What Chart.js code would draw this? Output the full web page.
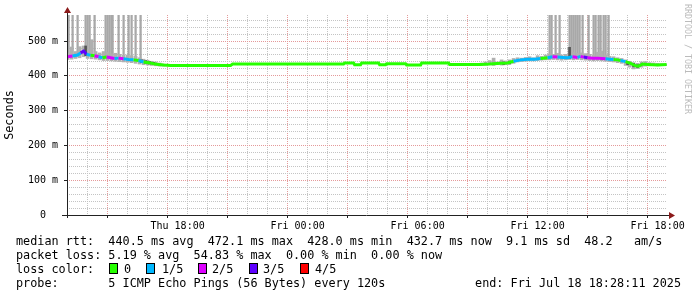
<!DOCTYPE html>
<html><head><meta charset="utf-8">
<script src="https://cdn.jsdelivr.net/npm/chart.js@4.4.1/dist/chart.umd.min.js"></script>
<style>
html,body{margin:0;padding:0;background:#fff;}
#wrap{position:relative;width:697px;height:297px;overflow:hidden;background:#fff;}
canvas{position:absolute;left:0;top:0;}
.t{position:absolute;font-family:"DejaVu Sans Mono",monospace;font-size:11.8px;line-height:14px;white-space:pre;color:#000;}
.box{position:absolute;width:9px;height:11px;border:1px solid #000;box-sizing:border-box;}
#wm{position:absolute;left:683px;top:4px;writing-mode:vertical-rl;font-family:"DejaVu Sans Mono",monospace;font-size:8.3px;line-height:10px;color:#bbb;white-space:pre;}
</style></head>
<body>
<div id="wrap">
<canvas id="c" width="697" height="297"></canvas>
<div id="wm">RRDTOOL / TOBI OETIKER</div>
<div class="t" style="left:16px;top:234px">median rtt:  440.5 ms avg  472.1 ms max  428.0 ms min  432.7 ms now  9.1 ms sd  48.2   am/s</div>
<div class="t" style="left:16px;top:248px">packet loss: 5.19 % avg  54.83 % max  0.00 % min  0.00 % now</div>
<div class="t" style="left:16px;top:262px">loss color:</div>
<div id="lossLegend"></div>
<div class="t" style="left:16px;top:276px">probe:       5 ICMP Echo Pings (56 Bytes) every 120s</div>
<div class="t" style="right:16px;top:276px">end: Fri Jul 18 18:28:11 2025</div>
</div>
<script>
// ---- data (x = hours since Thu 00:00) ----
const lossLabels = ['0', '1/5', '2/5', '3/5', '4/5'];
const lossColors = ['#26ff00', '#00b8ff', '#dd00ff', '#5e00ff', '#ff0000'];

const medT = [12.5,12.75,13.0,13.15,13.3,13.45,13.65,13.85,14.05,14.25,14.45,14.65,14.85,15.05,15.3,15.55,15.8,16.05,16.3,16.55,16.8,17.05,17.3,17.65,18.5,19.5,20.65,20.75,22,24,26.3,26.35,26.8,26.85,27.15,27.2,28.05,28.1,28.4,28.45,29.4,29.45,30.15,30.2,31.55,31.6,32.5,33.15,33.6,34.15,34.5,34.8,35.15,35.5,35.85,36.15,36.5,36.75,37.0,37.25,37.5,37.75,38.0,38.15,38.3,38.5,38.75,39.0,39.2,39.4,39.6,39.8,40.0,40.15,40.4,40.65,40.9,41.05,41.25,41.5,42.0,42.45];
const medV = [455,457,460,466,471,462,459,458,455,452,454,452,450,451,449,447,446,444,440,438,435,433,431,430,430,430,430,434,434,434,434,437,437,432,432,437,437,432,432,435,435,431,431,437,437,433,433,433,434,436,437,442,446,448,448,450,452,455,454,453,452,455,453,456,454,452,451,451,450,449,448,447,446,444,441,436,429,428,434,433,431,432.7];
const medLoss = [2,1,1,3,3,1,0,2,1,0,2,2,1,2,1,1,0,1, 0,0,0,0,0,0,0,0,0,0,0,0,0,0,0,0,0,0,0,0,0,0,0,0,0,0,0,0,0,0,0,0,0, 1,1,1,1,0,1,2,1,1,1,2,1,2,3,2,2,2,2,1,1,0,0,1, 0,0,0,0,0,0,0,0];

const smokeT  = [12.5,12.7,12.9,13.1,13.3,13.5,13.7,13.9,14.1,14.3,14.5,14.7,14.9,15.1,15.3,15.5,15.7,15.9,16.1,16.3,16.5,16.7,16.9,17.1,17.3,
                 33.0,33.2,33.4,33.6,33.8,34.0,34.2,34.4,34.6,34.8,35.0,35.2,35.4,35.6,35.8,36.0,36.2,36.4,36.6,36.8,37.0,37.2,37.4,37.6,37.8,38.0,38.2,38.4,38.6,38.8,39.0,39.2,39.4,39.6,39.8,40.0,40.2,40.4,40.6,40.8,41.0,41.2,41.4,41.6,41.8,42.0,42.2,42.4];
const smokeLo = [447,448,450,452,455,450,449,448,446,444,444,443,442,441,440,439,438,436,434,432,431,430,429,428,428,
                 430,431,431,432,430,432,431,432,434,436,440,441,442,443,443,444,445,446,446,447,446,445,446,447,446,447,446,445,444,443,444,443,442,441,440,438,436,430,425,420,421,425,428,429,430,429,430,430];
const smokeHi = [466,483,470,484,486,476,504,470,466,470,468,463,465,462,459,460,458,456,452,448,445,442,440,437,434,
                 436,437,440,444,451,440,446,443,446,450,452,451,453,455,452,458,456,460,463,462,465,460,462,482,468,465,466,464,462,460,468,471,460,456,455,452,450,446,442,438,436,440,441,438,437,436,435,434];

const darkT  = [13.4,16.2,16.4,16.6,16.8,34.3,34.6,37.6,40.5,40.8,41.0];
const darkLo = [458,438,436,434,433,432,434,450,432,426,424];
const darkHi = [486,446,444,441,439,440,442,482,440,436,432];

const spikeT  = [12.55,12.75,13.0,13.4,13.5,13.6,13.85,14.4,14.5,14.6,14.7,14.75,15.05,15.3,15.55,15.7,15.9,16.15,
                 36.6,36.7,36.9,37.1,37.6,37.7,37.8,37.9,38.0,38.1,38.25,38.55,38.8,38.9,39.05,39.15,39.3,39.4,39.55];
const spikeLo = [452,455,456,460,458,458,456,452,452,450,450,450,449,448,447,446,445,444,
                 450,450,452,452,452,452,452,452,452,452,452,450,450,450,449,449,448,448,447];
const spikeHi = spikeT.map(() => 580);

const xMin = 12.47, xMax = 42.47;
const xTickHours = []; for (let h = 13; h <= 42; h++) xTickHours.push(h);
const xLabels = {18: 'Thu 18:00', 24: 'Fri 00:00', 30: 'Fri 06:00', 36: 'Fri 12:00', 42: 'Fri 18:00'};
const yMax = 575;
const yTickVals = []; for (let v = 0; v <= 560; v += 20) yTickVals.push(v);

// ---- legend boxes ----
const boxX = [109, 146, 198, 249, 300], labX = [124, 162, 212, 263, 315];
const ll = document.getElementById('lossLegend');
lossLabels.forEach((l, i) => {
  const b = document.createElement('div'); b.className = 'box';
  b.style.left = boxX[i] + 'px'; b.style.top = '263px'; b.style.background = lossColors[i];
  ll.appendChild(b);
  const t = document.createElement('div'); t.className = 't';
  t.style.left = labX[i] + 'px'; t.style.top = '262px'; t.textContent = l;
  ll.appendChild(t);
});

const pts = (T, A, B) => T.map((t, i) => ({x: t, y: B ? [A[i], B[i]] : A[i]}));
const GRAY = '#c4c4c4', RED = '#e49a9a';
const mono = {family: '"DejaVu Sans Mono", monospace', size: 10};

const axesPlugin = {
  id: 'rrdAxes',
  afterDraw(chart) {
    const {ctx, chartArea: a} = chart;
    ctx.save();
    ctx.strokeStyle = '#222'; ctx.lineWidth = 1;
    ctx.beginPath();
    ctx.moveTo(a.left - 5, a.bottom + 0.5); ctx.lineTo(a.right + 4, a.bottom + 0.5);
    ctx.moveTo(a.left + 0.5, a.bottom + 3); ctx.lineTo(a.left + 0.5, a.top - 4);
    ctx.stroke();
    ctx.fillStyle = '#8b1a1a';
    ctx.beginPath();
    ctx.moveTo(a.right + 2, a.bottom - 3); ctx.lineTo(a.right + 8, a.bottom + 0.5); ctx.lineTo(a.right + 2, a.bottom + 4);
    ctx.closePath(); ctx.fill();
    ctx.beginPath();
    ctx.moveTo(a.left - 3, a.top - 2); ctx.lineTo(a.left + 0.5, a.top - 8); ctx.lineTo(a.left + 4, a.top - 2);
    ctx.closePath(); ctx.fill();
    ctx.restore();
  }
};

new Chart(document.getElementById('c'), {
  type: 'line',
  data: {
    datasets: [
      {type: 'line', data: pts(medT, medV), borderWidth: 3, pointRadius: 0, tension: 0, order: 0,
       borderColor: lossColors[0],
       segment: {borderColor: c => lossColors[medLoss[c.p0DataIndex]]}},
      {type: 'bar', data: pts(darkT, darkLo, darkHi), backgroundColor: '#555', barThickness: 2, grouped: false, order: 1, clip: 0},
      {type: 'bar', data: pts(smokeT, smokeLo, smokeHi), backgroundColor: '#b0b0b0', barThickness: 3, grouped: false, order: 2, clip: 0},
      {type: 'bar', data: pts(spikeT, spikeLo, spikeHi), backgroundColor: '#a8a8a8', barThickness: 1.6, grouped: false, order: 3, clip: 0}
    ]
  },
  options: {
    responsive: false, animation: false, devicePixelRatio: 1,
    layout: {padding: {top: 15, right: 30, left: 0, bottom: 0}},
    plugins: {legend: {display: false}, tooltip: {enabled: false}},
    events: [],
    scales: {
      x: {
        type: 'linear', min: xMin, max: xMax, offset: false,
        afterBuildTicks: s => { s.ticks = xTickHours.map(v => ({value: v})); },
        afterFit: s => { s.height = 82; },
        border: {display: false, dash: [1, 1]},
        grid: {
          color: c => (c.tick && c.tick.value % 3 === 0) ? RED : GRAY,
          tickColor: c => (c.tick && c.tick.value % 3 === 0) ? '#222' : 'rgba(0,0,0,0)',
          tickLength: 3, lineWidth: 1
        },
        ticks: {autoSkip: false, maxRotation: 0, minRotation: 0, padding: 2, color: '#000', font: mono,
          callback: v => xLabels[v] || ''}
      },
      y: {
        type: 'linear', min: 0, max: yMax,
        afterBuildTicks: s => { s.ticks = yTickVals.map(v => ({value: v})); },
        afterFit: s => { s.width = 67; },
        border: {display: false, dash: [1, 1]},
        grid: {
          color: c => (c.tick && c.tick.value % 100 === 0) ? RED : GRAY,
          tickColor: c => (c.tick && c.tick.value % 100 === 0) ? '#222' : 'rgba(0,0,0,0)',
          tickLength: 3, lineWidth: 1
        },
        ticks: {autoSkip: false, padding: 6, color: '#000', font: mono,
          callback: v => v % 100 === 0 ? (v === 0 ? '0  ' : v + ' m') : ''},
        title: {display: true, text: 'Seconds', color: '#000', padding: {top: 3, bottom: 0},
          font: {family: '"DejaVu Sans Mono", monospace', size: 11.8}}
      }
    }
  },
  plugins: [axesPlugin]
});
</script>
</body></html>
